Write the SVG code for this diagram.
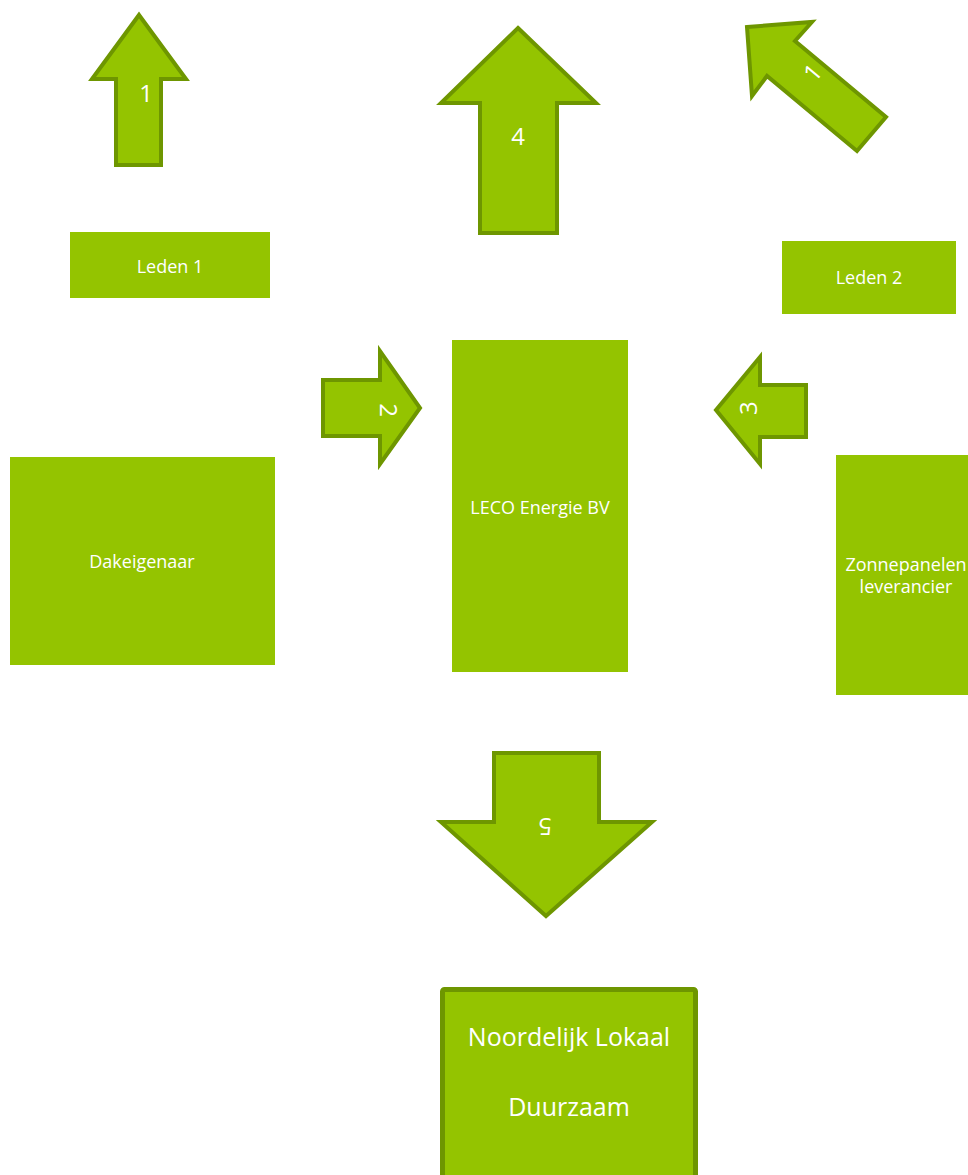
<svg xmlns="http://www.w3.org/2000/svg" width="968" height="1175" viewBox="0 0 968 1175">
<style>
.box{fill:#94C400;}
.arr{fill:#94C400;stroke:#6E9600;stroke-width:4;stroke-linejoin:miter;}
.lbl{font-family:"Open Sans","Liberation Sans",sans-serif;fill:#FFFFFF;text-anchor:middle;dominant-baseline:central;}
.s{font-size:18px;}
.d{font-size:24px;}
.b{font-size:25px;}
</style>
<rect width="968" height="1175" fill="#FFFFFF"/>
<g id="connectors">
<g id="arrow-1-left">
<polygon class="arr" points="139,15 186,79 161,79 161,165 116,165 116,79 92,79"/>
<text class="lbl d" x="146" y="92">1</text>
</g>
<g id="arrow-4">
<polygon class="arr" points="518,28 596,103 557,103 557,233 480,233 480,103 441,103"/>
<text class="lbl d" x="518" y="135">4</text>
</g>
<g id="arrow-1-right">
<polygon class="arr" points="747,27 812,22 795,41 886,117 857,151 767,76 752,96"/>
<text class="lbl d" x="812" y="72" transform="rotate(-50 812 72)">1</text>
</g>
<g id="arrow-2">
<polygon class="arr" points="323,380 380,380 380,351 420,408 380,464 380,436 323,436"/>
<text class="lbl d" x="389" y="410" transform="rotate(90 389 410)">2</text>
</g>
<g id="arrow-3">
<polygon class="arr" points="716,410 760,357 760,385 806,385 806,437 760,437 760,464"/>
<text class="lbl d" x="747" y="408" transform="rotate(-90 747 408)">3</text>
</g>
<g id="arrow-5">
<polygon class="arr" points="494,753 599,753 599,822 652,822 546,916 441,822 494,822"/>
<text class="lbl d" x="545" y="827" transform="rotate(180 545 827)">5</text>
</g>
</g>
<g id="leden1">
<rect class="box" x="70" y="232" width="200" height="66"/>
<text class="lbl s" x="170" y="266">Leden 1</text>
</g>
<g id="leden2">
<rect class="box" x="782" y="241" width="174" height="73"/>
<text class="lbl s" x="869" y="277">Leden 2</text>
</g>
<g id="leco">
<rect class="box" x="452" y="340" width="176" height="332"/>
<text class="lbl s" x="540" y="507">LECO Energie BV</text>
</g>
<g id="dakeigenaar">
<rect class="box" x="10" y="457" width="265" height="208"/>
<text class="lbl s" x="142" y="561">Dakeigenaar</text>
</g>
<g id="zonnepanelen">
<rect class="box" x="836" y="455" width="140" height="240"/>
<text class="lbl s" x="906" y="564">Zonnepanelen</text>
<text class="lbl s" x="906" y="586">leverancier</text>
</g>
<g id="noordelijk">
<rect x="442.5" y="989.5" width="253" height="200" rx="2" fill="#94C400" stroke="#6E9600" stroke-width="5"/>
<text class="lbl b" x="569" y="1036">Noordelijk Lokaal</text>
<text class="lbl b" x="569" y="1106">Duurzaam</text>
</g>
</svg>
